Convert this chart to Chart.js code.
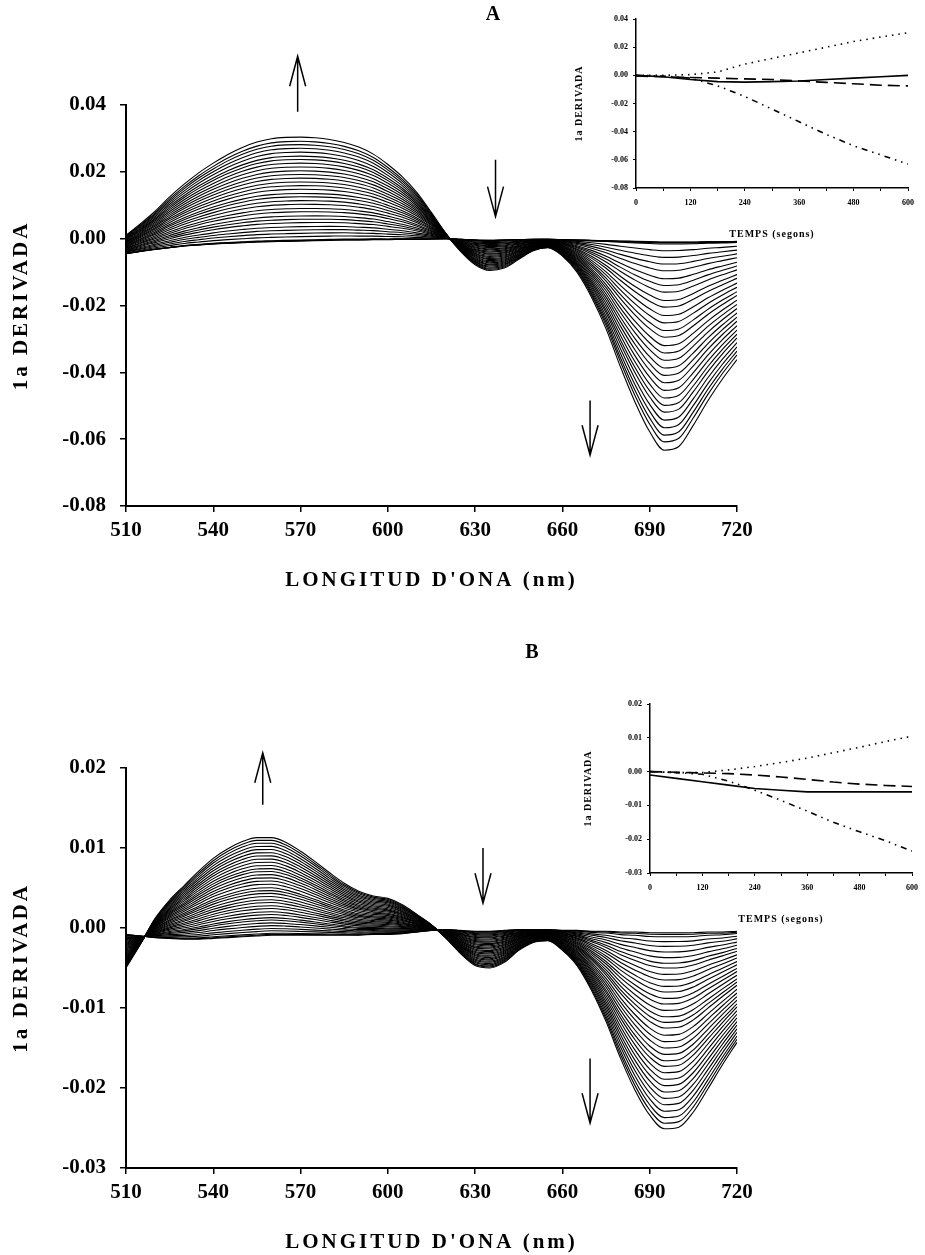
<!DOCTYPE html>
<html>
<head>
<meta charset="utf-8">
<script src="https://cdn.jsdelivr.net/npm/chart.js@4.4.1/dist/chart.umd.min.js"></script>
<style>
  html, body { margin: 0; padding: 0; background: #fff; }
  #page { position: relative; width: 925px; height: 1255px; overflow: hidden; background: #fff; }
  canvas { position: absolute; }
</style>
</head>
<body>
<div id="page">
  <canvas id="mainA" style="left:0px;top:0px" width="925" height="620"></canvas>
  <canvas id="mainB" style="left:0px;top:640px" width="925" height="615"></canvas>
  <canvas id="insetA" style="left:560px;top:0px" width="365" height="250"></canvas>
  <canvas id="insetB" style="left:570px;top:640px" width="355" height="300"></canvas>
</div>
<script>
"use strict";
///////////////////////////////
//Data

// wavelength grid, nm
const wavelengths = [510, 515, 520, 525, 530, 535, 540, 545, 550, 555, 560, 565, 570, 575,
  580, 585, 590, 595, 600, 605, 610, 615, 620, 625, 630, 635, 640, 645, 650, 655, 660, 665,
  670, 675, 680, 685, 690, 695, 700, 705, 710, 715, 720];

// panel A: first spectrum (t = 0) and last spectrum
const baseA = [-0.0045, -0.0038, -0.0032, -0.0027, -0.0022, -0.0019, -0.0016, -0.0014, -0.0012,
  -0.0010, -0.0009, -0.0008, -0.0007, -0.0006, -0.0005, -0.0004, -0.0004, -0.0003, -0.0003,
  -0.0002, -0.0002, -0.0001, 0.0, -0.0002, -0.0004, -0.0005, -0.0004, -0.0003, -0.0002, -0.0002,
  -0.0003, -0.0004, -0.0005, -0.0006, -0.0007, -0.0008, -0.0009, -0.0010, -0.0010, -0.0010,
  -0.0009, -0.0009, -0.0008];
const finalA = [0.0010, 0.0045, 0.0082, 0.0125, 0.0163, 0.0197, 0.0226, 0.0252, 0.0273, 0.0289,
  0.0299, 0.0303, 0.0304, 0.0302, 0.0297, 0.0288, 0.0274, 0.0253, 0.0222, 0.0185, 0.0138, 0.0078,
  0.0015, -0.0038, -0.0078, -0.0095, -0.0088, -0.0062, -0.0036, -0.0027, -0.0052, -0.0100,
  -0.0175, -0.0270, -0.0385, -0.0490, -0.0578, -0.0633, -0.0622, -0.0558, -0.0485, -0.0420,
  -0.0362];
// depth of every recorded spectrum at 695 nm, panel A
const depthsA = [-0.0010, -0.0011, -0.0013, -0.0016, -0.0036, -0.0056, -0.0076, -0.0096, -0.0120,
  -0.0140, -0.0160, -0.0185, -0.0205, -0.0230, -0.0252, -0.0275, -0.0295, -0.0320, -0.0342,
  -0.0364, -0.0387, -0.0409, -0.0431, -0.0454, -0.0477, -0.0499, -0.0519, -0.0543, -0.0566,
  -0.0588, -0.0608, -0.0633];

// panel B
const baseB = [-0.0008, -0.0010, -0.0012, -0.0013, -0.0014, -0.0014, -0.0013, -0.0012, -0.0011,
  -0.0010, -0.0009, -0.0009, -0.0009, -0.0009, -0.0009, -0.0009, -0.0009, -0.0008, -0.0008,
  -0.0007, -0.0005, -0.0003, -0.0002, -0.0003, -0.0004, -0.0004, -0.0003, -0.0002, -0.0002,
  -0.0002, -0.0003, -0.0003, -0.0004, -0.0004, -0.0005, -0.0005, -0.0006, -0.0006, -0.0006,
  -0.0006, -0.0005, -0.0005, -0.0004];
const finalB = [-0.0050, -0.0020, 0.0012, 0.0035, 0.0053, 0.0071, 0.0087, 0.0099, 0.0108, 0.0113,
  0.0113, 0.0107, 0.0096, 0.0083, 0.0069, 0.0056, 0.0046, 0.0040, 0.0037, 0.0029, 0.0017, 0.0004,
  -0.0013, -0.0032, -0.0047, -0.0050, -0.0043, -0.0028, -0.0018, -0.0016, -0.0028, -0.0047,
  -0.0078, -0.0117, -0.0163, -0.0203, -0.0234, -0.0251, -0.0249, -0.0230, -0.0201, -0.0171,
  -0.0143];
const depthsB = [-0.0006, -0.0008, -0.0011, -0.0017, -0.0023, -0.0030, -0.0037, -0.0044, -0.0050,
  -0.0058, -0.0065, -0.0073, -0.0080, -0.0088, -0.0095, -0.0103, -0.0111, -0.0118, -0.0125,
  -0.0134, -0.0142, -0.0150, -0.0158, -0.0166, -0.0173, -0.0181, -0.0189, -0.0197, -0.0205,
  -0.0213, -0.0221, -0.0229, -0.0237, -0.0244, -0.0251];

// insets: derivative vs time, seconds
const insetTimes = [0, 60, 120, 180, 240, 300, 360, 420, 480, 540, 600];
const insetA_dotted = [0, 0, 0.0005, 0.0024, 0.0080, 0.0120, 0.0160, 0.0200, 0.0240, 0.0272, 0.0303];
const insetA_dashDot = [0, -0.0005, -0.0020, -0.0075, -0.0150, -0.0240, -0.0330, -0.0420, -0.0500, -0.0565, -0.0630];
const insetA_solid = [0, -0.0010, -0.0030, -0.0045, -0.0048, -0.0045, -0.0040, -0.0030, -0.0020, -0.0010, 0];
const insetA_dashed = [-0.0005, -0.0010, -0.0015, -0.0020, -0.0025, -0.0030, -0.0040, -0.0050, -0.0060, -0.0070, -0.0075];

const insetB_dotted = [0, -0.0003, -0.0003, 0.0005, 0.0015, 0.0027, 0.0040, 0.0056, 0.0072, 0.0089, 0.0105];
const insetB_dashDot = [0, -0.0003, -0.0008, -0.0028, -0.0055, -0.0085, -0.0117, -0.0150, -0.0178, -0.0205, -0.0235];
const insetB_solid = [-0.0010, -0.0020, -0.0030, -0.0040, -0.0050, -0.0055, -0.0060, -0.0060, -0.0060, -0.0060, -0.0060];
const insetB_dashed = [0, -0.0002, -0.0004, -0.0006, -0.0010, -0.0016, -0.0023, -0.0031, -0.0037, -0.0041, -0.0044];

//////////////////////////////
//Helpers
const serif = "'Liberation Serif', 'Times New Roman', 'DejaVu Serif', serif";
const fmt2 = function (v) {
  return Math.abs(v) < 1e-9 ? "0.00" : v.toFixed(2);
};

// each recorded spectrum sits between the first and last one, scaled by its depth at 695 nm
const buildCurves = function (base, final, depths) {
  const k695 = wavelengths.indexOf(695);
  return depths.map(function (d) {
    const f = (d - base[k695]) / (final[k695] - base[k695]);
    return {
      data: wavelengths.map(function (w, k) {
        return { x: w, y: base[k] + f * (final[k] - base[k]) };
      }),
      borderColor: "#000",
      borderWidth: 1.1,
      pointRadius: 0,
      fill: false,
      cubicInterpolationMode: "monotone",
    };
  });
};

// titles, panel letter and arrows
const decorPlugin = {
  id: "decor",
  afterDraw(chart, args, opts) {
    const ctx = chart.ctx;
    const area = chart.chartArea;
    const xs = chart.scales.x;
    const ys = chart.scales.y;
    ctx.save();
    ctx.fillStyle = "#000";
    ctx.strokeStyle = "#000";
    ctx.textAlign = "center";
    ctx.textBaseline = "middle";
    ctx.font = opts.titleFont;
    ctx.letterSpacing = opts.spacing + "px";
    ctx.fillText(opts.xTitle, (area.left + area.right) / 2, area.bottom + opts.xTitleGap);
    ctx.save();
    ctx.translate(opts.yTitleX, (area.top + area.bottom) / 2);
    ctx.rotate(-Math.PI / 2);
    ctx.fillText(opts.yTitle, 0, 0);
    ctx.restore();
    ctx.letterSpacing = "0px";
    if (opts.letter) {
      ctx.font = "bold 20px " + serif;
      ctx.fillText(opts.letter.text, opts.letter.x, opts.letter.y);
    }
    (opts.arrows || []).forEach(function (a) {
      const x = xs.getPixelForValue(a.at);
      const y1 = ys.getPixelForValue(a.from);
      const y2 = ys.getPixelForValue(a.to);
      const dir = y2 > y1 ? 1 : -1;
      ctx.lineWidth = 1.5;
      ctx.beginPath();
      ctx.moveTo(x, y1);
      ctx.lineTo(x, y2);
      ctx.moveTo(x - 8, y2 - dir * 30);
      ctx.lineTo(x, y2);
      ctx.lineTo(x + 8, y2 - dir * 30);
      ctx.stroke();
    });
    ctx.restore();
  },
};

const mainChart = function (id, datasets, yMin, yMax, yStep, padTop, xHeight, decor) {
  return new Chart(document.getElementById(id), {
    type: "line",
    data: { datasets: datasets },
    plugins: [decorPlugin],
    options: {
      responsive: false,
      animation: false,
      events: [],
      layout: { padding: { top: padTop, right: 188, left: 0, bottom: 0 } },
      plugins: { legend: { display: false }, tooltip: { enabled: false }, decor: decor },
      scales: {
        x: {
          type: "linear",
          min: 510,
          max: 720,
          afterFit: function (scale) { scale.height = xHeight; },
          ticks: { stepSize: 30, color: "#000", padding: 6, maxRotation: 0,
            font: { family: serif, weight: "bold", size: 21 } },
          grid: { drawOnChartArea: false, drawTicks: true, tickLength: 6, color: "#000", lineWidth: 1.5 },
          border: { display: true, color: "#000", width: 2 },
        },
        y: {
          min: yMin,
          max: yMax,
          afterFit: function (scale) { scale.width = 126; },
          ticks: { stepSize: yStep, color: "#000", padding: 14, callback: fmt2,
            font: { family: serif, weight: "bold", size: 21 } },
          grid: { drawOnChartArea: false, drawTicks: true, tickLength: 6, color: "#000", lineWidth: 1.5 },
          border: { display: true, color: "#000", width: 2 },
        },
      },
    },
  });
};

const insetLine = function (values, dash) {
  return {
    data: insetTimes.map(function (t, k) { return { x: t, y: values[k] }; }),
    borderColor: "#000",
    borderWidth: 1.6,
    borderDash: dash,
    pointRadius: 0,
    fill: false,
    tension: 0,
  };
};

const insetChart = function (id, series, yMin, yMax, yStep, pad, yWidth, xHeight, decor) {
  return new Chart(document.getElementById(id), {
    type: "line",
    data: {
      datasets: [
        insetLine(series[0], [1.5, 5]),
        insetLine(series[1], [6, 5, 1.5, 5, 1.5, 5]),
        insetLine(series[2], []),
        insetLine(series[3], [12, 6]),
      ],
    },
    plugins: [decorPlugin],
    options: {
      responsive: false,
      animation: false,
      events: [],
      layout: { padding: pad },
      plugins: { legend: { display: false }, tooltip: { enabled: false }, decor: decor },
      scales: {
        x: {
          type: "linear",
          min: 0,
          max: 600,
          afterFit: function (scale) { scale.height = xHeight; },
          ticks: { stepSize: 60, color: "#000", padding: 7, maxRotation: 0, autoSkip: false,
            callback: function (v) { return v % 120 === 0 ? String(v) : ""; },
            font: { family: serif, weight: "bold", size: 8 } },
          grid: { drawOnChartArea: false, drawTicks: true, tickLength: 3, color: "#000", lineWidth: 1 },
          border: { display: true, color: "#000", width: 1.5 },
        },
        y: {
          min: yMin,
          max: yMax,
          afterFit: function (scale) { scale.width = yWidth; },
          ticks: { stepSize: yStep, color: "#000", padding: 5, callback: fmt2,
            font: { family: serif, weight: "bold", size: 8 } },
          grid: { drawOnChartArea: false, drawTicks: true, tickLength: 3, color: "#000", lineWidth: 1 },
          border: { display: true, color: "#000", width: 1.5 },
        },
      },
    },
  });
};

//////////////////////////
//Charts
mainChart("mainA", buildCurves(baseA, finalA, depthsA), -0.08, 0.04, 0.02, 105, 114, {
  xTitle: "LONGITUD D'ONA (nm)",
  yTitle: "1a DERIVADA",
  titleFont: "bold 21px " + serif,
  spacing: 3,
  xTitleGap: 75,
  yTitleX: 22,
  letter: { text: "A", x: 493, y: 15 },
  arrows: [
    { at: 569, from: 0.038, to: 0.0546 },
    { at: 637, from: 0.0236, to: 0.0066 },
    { at: 669.5, from: -0.0484, to: -0.0648 },
  ],
});

mainChart("mainB", buildCurves(baseB, finalB, depthsB), -0.03, 0.02, 0.01, 128, 87, {
  xTitle: "LONGITUD D'ONA (nm)",
  yTitle: "1a DERIVADA",
  titleFont: "bold 21px " + serif,
  spacing: 3,
  xTitleGap: 75,
  yTitleX: 22,
  letter: { text: "B", x: 532, y: 13 },
  arrows: [
    { at: 557, from: 0.0154, to: 0.0219 },
    { at: 632.7, from: 0.010, to: 0.0031 },
    { at: 669.5, from: -0.0163, to: -0.0244 },
  ],
});

insetChart("insetA", [insetA_dotted, insetA_dashDot, insetA_solid, insetA_dashed], -0.08, 0.04, 0.02,
  { top: 19, right: 17, left: 0, bottom: 0 }, 76, 62, {
    xTitle: "TEMPS (segons)",
    yTitle: "1a DERIVADA",
    titleFont: "bold 10px " + serif,
    spacing: 1,
    xTitleGap: 46,
    yTitleX: 19,
  });

insetChart("insetB", [insetB_dotted, insetB_dashDot, insetB_solid, insetB_dashed], -0.03, 0.02, 0.01,
  { top: 64, right: 8, left: 0, bottom: 0 }, 80, 67, {
    xTitle: "TEMPS (segons)",
    yTitle: "1a DERIVADA",
    titleFont: "bold 10px " + serif,
    spacing: 1,
    xTitleGap: 46,
    yTitleX: 18,
  });
</script>
</body>
</html>
